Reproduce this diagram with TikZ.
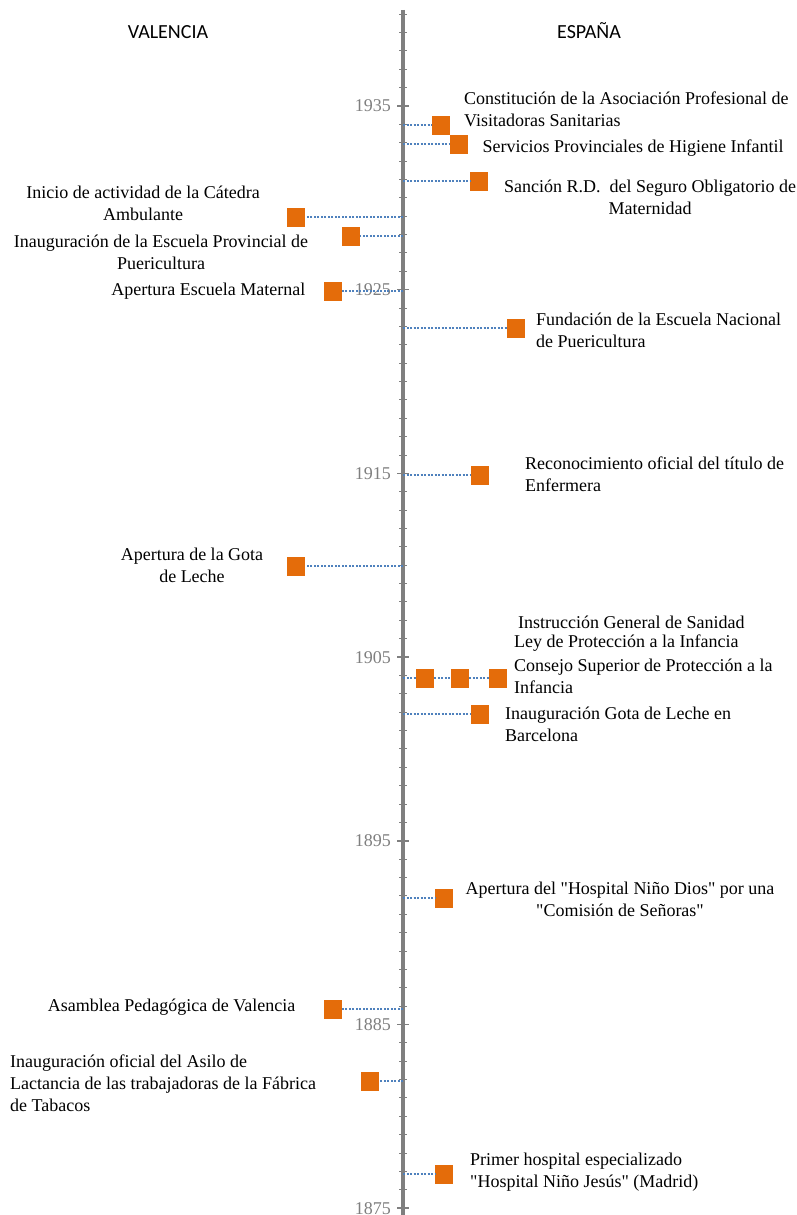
\documentclass[tikz,border=0pt]{standalone}
\usepackage{fontspec}
\setmainfont{Liberation Serif}
\newfontfamily\headfont{Carlito}
\definecolor{EventOrange}{HTML}{E46C0A}
\definecolor{LinkBlue}{HTML}{4F81BD}
\definecolor{AxisGray}{HTML}{7F7F7F}
\usetikzlibrary{positioning}

\begin{document}
\begin{tikzpicture}[x=1pt,y=-1pt,every node/.style={inner sep=0pt,font=\fontsize{18}{22}\selectfont},
    ev/.style={fill=EventOrange,minimum width=18.5pt,minimum height=19pt},
    link/.style={LinkBlue,line width=2.4pt,dash pattern=on 2pt off 1.5pt},
    yr/.style={anchor=east,text=AxisGray},
    head/.style={font=\headfont\fontsize{20}{24}\selectfont}]
      \useasboundingbox (0,0) rectangle (796,1215);
      \node[head] (val) at (168,32) {VALENCIA};
      \node[head] (esp) at (589,31) {ESPAÑA};
      \coordinate (axtop) at (403,10);
      \coordinate (axbot) at (403,1220);
      \draw[AxisGray,line width=3.5pt] (axtop) -- (axbot);
      \foreach \y in {1876,...,1940}{\draw[AxisGray,line width=1pt] (399,{106+(1935-\y)*18.37}) -- (407,{106+(1935-\y)*18.37});}
      \foreach \y in {1875,1885,...,1935}{
        \draw[AxisGray,line width=1.5pt] (397,{106+(1935-\y)*18.37}) -- (409,{106+(1935-\y)*18.37});
        \node[yr] (y\y) at (391,{106+(1935-\y)*18.37}) {\y};}
      \node[ev] (constit) at (441,125) {};
      \node[ev] (servic) at (459,144) {};
      \node[ev] (sancion) at (479,181) {};
      \node[ev] (fundac) at (516,328) {};
      \node[ev] (reconoc) at (480,475) {};
      \node[ev] (instruc) at (425,678) {};
      \node[ev] (ley) at (460,678) {};
      \node[ev] (consejo) at (498,678) {};
      \node[ev] (gotabcn) at (480,714) {};
      \node[ev] (ninodios) at (444,898) {};
      \node[ev] (ninojesus) at (444,1174) {};
      \node[ev] (catedra) at (296,217) {};
      \node[ev] (escprov) at (351,236) {};
      \node[ev] (maternal) at (333,291) {};
      \node[ev] (gotaval) at (296,566) {};
      \node[ev] (asamblea) at (333,1009) {};
      \node[ev] (asilo) at (370,1081) {};
      \node[anchor=west,align=left] (constitL) at (464,109) {Constitución de la Asociación Profesional de\\Visitadoras Sanitarias};
      \node[right=14pt of servic,yshift=-4pt] (servicL) {Servicios Provinciales de Higiene Infantil};
      \node[align=center] (sancionL) at (650,197) {Sanción R.D.\ \ del Seguro Obligatorio de\\Maternidad};
      \node[anchor=west,align=left] (fundacL) at (536,330) {Fundación de la Escuela Nacional\\de Puericultura};
      \node[anchor=west,align=left] (reconocL) at (525,474) {Reconocimiento oficial del título de\\Enfermera};
      \node[anchor=west] (instrucL) at (518,622) {Instrucción General de Sanidad};
      \node[anchor=west] (leyL) at (514,643) {Ley de Protección a la Infancia};
      \node[anchor=west,align=left] (consejoL) at (514,676) {Consejo Superior de Protección a la\\Infancia};
      \node[anchor=west,align=left] (gotabcnL) at (505,724) {Inauguración Gota de Leche en\\Barcelona};
      \node[align=center] (ninodiosL) at (620,899) {Apertura del \textquotedbl Hospital Niño Dios\textquotedbl{} por una\\\textquotedbl Comisión de Señoras\textquotedbl};
      \node[anchor=west,align=left] (ninojesusL) at (470,1172) {Primer hospital especializado\\\textquotedbl Hospital Niño Jesús\textquotedbl{} (Madrid)};
      \node[align=center] (catedraL) at (143,203) {Inicio de actividad de la Cátedra\\Ambulante};
      \node[align=center] (escprovL) at (161,252) {Inauguración de la Escuela Provincial de\\Puericultura};
      \node[left=18pt of maternal] (maternalL) {Apertura Escuela Maternal};
      \node[align=center] (gotavalL) at (192,565) {Apertura de la Gota\\de Leche};
      \node[left=28pt of asamblea,yshift=2pt] (asambleaL) {Asamblea Pedagógica de Valencia};
      \node[anchor=west,align=left] (asiloL) at (10,1083) {Inauguración oficial del Asilo de\\Lactancia de las trabajadoras de la Fábrica\\de Tabacos};
      \foreach \e in {constit,servic,sancion,fundac,reconoc,instruc,gotabcn,ninodios,ninojesus,catedra,escprov,maternal,gotaval,asamblea,asilo}{\draw[link] (\e -| axtop) -- (\e);}
      \foreach \x/\y in {instruc/ley,ley/consejo}{\draw[link] (\x) -- (\y);}
    \end{tikzpicture}
\end{document}
